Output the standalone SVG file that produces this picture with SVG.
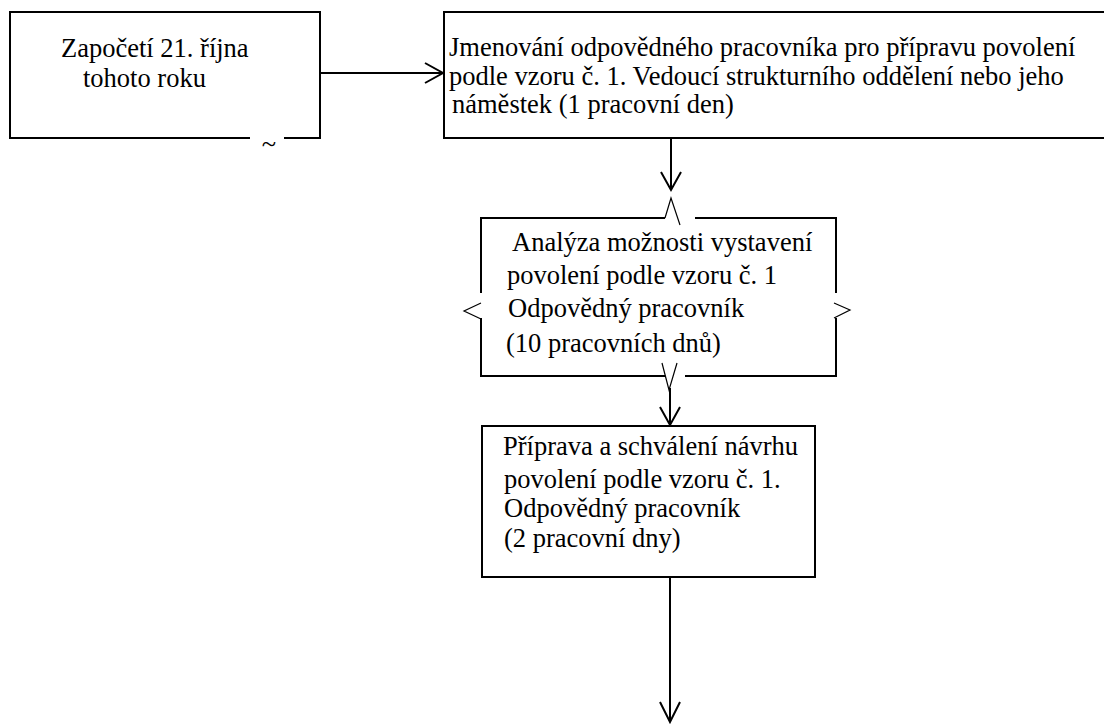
<svg xmlns="http://www.w3.org/2000/svg" width="1104" height="724" viewBox="0 0 1104 724">
<style>
.box{fill:none;stroke:#000;stroke-width:2}
.ln{fill:none;stroke:#000;stroke-width:2}
.thin{fill:none;stroke:#000;stroke-width:1.2}
</style>
<rect width="1104" height="724" fill="#fff"/>
<g id="node-start" font-family="Liberation Serif, serif" font-size="26.5" fill="#000">
<path class="box" d="M250,138 H10 V12 H320 V138 H284"/>
<text x="61" y="56.5">Započetí 21. října</text>
<text x="83" y="86.5">tohoto roku</text>
<text x="269" y="153" text-anchor="middle">~</text>
</g>
<g id="node-appoint" font-family="Liberation Serif, serif" font-size="26.5" fill="#000">
<path class="box" d="M1110,12 H444 V138 H1110"/>
<text x="449" y="56">Jmenování odpovědného pracovníka pro přípravu povolení</text>
<text x="449" y="85">podle vzoru č. 1. Vedoucí strukturního oddělení nebo jeho</text>
<text x="452" y="113">náměstek (1 pracovní den)</text>
</g>
<g id="node-analysis" font-family="Liberation Serif, serif" font-size="26.5" fill="#000">
<path class="box" d="M665,218 H481 V293 M481,318 V376 H665 M685,376 H836 V318 M836,293 V218 H695"/>
<polyline class="thin" points="665,218 671,198 680,225"/>
<polyline class="thin" points="662,363 669,390 677,363"/>
<polyline class="thin" points="481,303 464,311 481,319"/>
<polyline class="thin" points="834,303 850,310 834,318"/>
<text x="512" y="251">Analýza možnosti vystavení</text>
<text x="507" y="284">povolení podle vzoru č. 1</text>
<text x="508" y="317">Odpovědný pracovník</text>
<text x="506" y="352">(10 pracovních dnů)</text>
</g>
<g id="node-prepare" font-family="Liberation Serif, serif" font-size="26.5" fill="#000">
<rect class="box" x="482" y="426" width="333" height="151"/>
<text x="503" y="455">Příprava a schválení návrhu</text>
<text x="504" y="488">povolení podle vzoru č. 1.</text>
<text x="504" y="517">Odpovědný pracovník</text>
<text x="504" y="547">(2 pracovní dny)</text>
</g>
<g id="connectors">
<path class="ln" d="M320,73 H443 M425,63 L443,73 L425,83"/>
<path class="ln" d="M671,138 V190 M661,172 L671,190 L681,172"/>
<path class="ln" d="M670,388 V425 M660,407 L670,425 L680,407"/>
<path class="ln" d="M670,577 V722 M660,702 L670,722 L680,702"/>
</g>
</svg>
